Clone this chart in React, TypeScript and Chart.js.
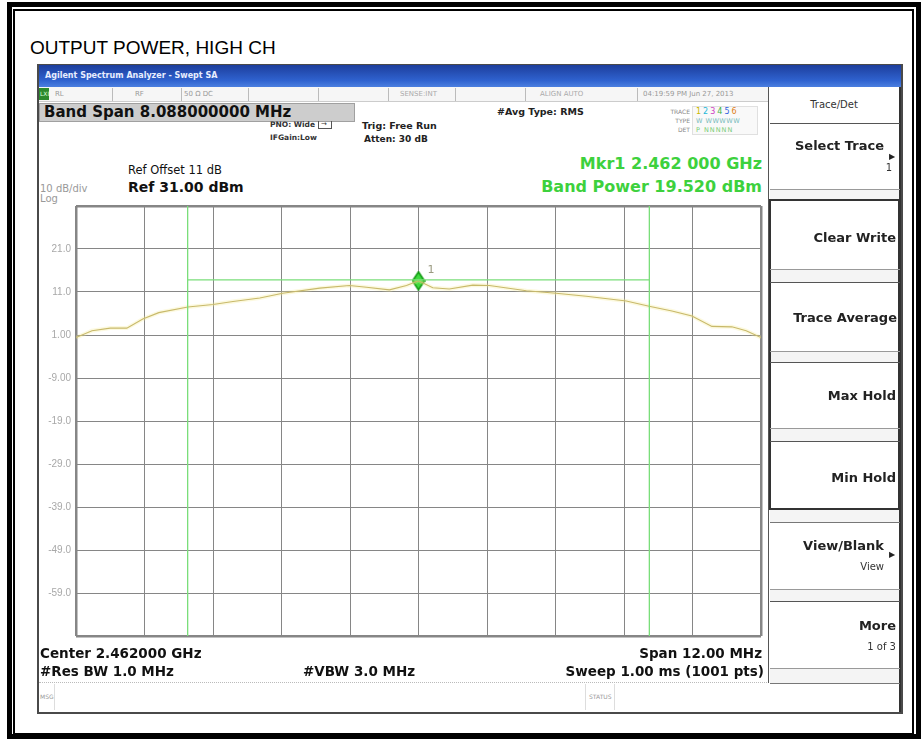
import React, { useEffect, useRef } from 'react';
import { Chart, registerables } from 'chart.js';

Chart.register(...registerables);

// ---- data (frequency as offset from centre, MHz; level in dBm) ----
const centerGHz = 2.462;
const traceOffsetMHz = [-6.0, -5.72, -5.4, -5.11, -4.83, -4.55, -4.04, -3.6, -3.25, -2.78, -2.38, -1.73, -1.21, -0.91, -0.51, -0.21, 0, 0.25, 0.54, 0.95, 1.24, 1.89, 2.41, 2.94, 3.64, 4.04, 4.44, 4.79, 5.14, 5.49, 5.74, 6.0];
const traceDbm = [0.4, 2.0, 2.6, 2.6, 4.7, 6.2, 7.5, 8.1, 8.8, 9.6, 10.7, 11.9, 12.5, 12.1, 11.5, 12.5, 13.6, 12.0, 11.7, 12.6, 12.5, 11.3, 10.7, 10.0, 8.9, 7.7, 6.6, 5.4, 3.0, 2.9, 2.0, 0.4];
const xGridMHz = [-6, -4.8, -3.6, -2.4, -1.2, 0, 1.2, 2.4, 3.6, 4.8, 6];
const yGridDbm = [-69, -59, -49, -39, -29, -19, -9, 1, 11, 21, 31];
const yTickLabels = ['', '-59.0', '-49.0', '-39.0', '-29.0', '-19.0', '-9.00', '1.00', '11.0', '21.0', ''];
const bandEdgesMHz = [-4.044, 4.044];
const bandLineDbm = 13.8;
const markerOffsetMHz = [0];
const markerDbm = [13.6];
const markerLabels = ['1'];

const refLevel = 31;
const bottomLevel = -69;

function makeDiamond(): HTMLCanvasElement {
  const c = document.createElement('canvas');
  c.width = 14;
  c.height = 20;
  const g = c.getContext('2d')!;
  g.beginPath();
  g.moveTo(7, 1);
  g.lineTo(13, 10);
  g.lineTo(7, 19);
  g.lineTo(1, 10);
  g.closePath();
  g.fillStyle = '#3fdc3f';
  g.fill();
  g.lineWidth = 1.6;
  g.strokeStyle = '#129a12';
  g.stroke();
  return c;
}

type TxtProps = {
  x: number; y: number; children: React.ReactNode; size?: number; bold?: boolean;
  color?: string; align?: 'left' | 'right' | 'center'; family?: string; ls?: number;
};
function Txt({ x, y, children, size = 12, bold = false, color = '#000', align = 'left', family = '"DejaVu Sans", sans-serif', ls = 0 }: TxtProps) {
  const tr = align === 'right' ? 'translate(-100%,-50%)' : align === 'center' ? 'translate(-50%,-50%)' : 'translateY(-50%)';
  return (
    <div style={{ position: 'absolute', left: x, top: y, transform: tr, fontSize: size, fontWeight: bold ? 700 : 400, color, fontFamily: family, lineHeight: 1, whiteSpace: 'nowrap', letterSpacing: ls }}>
      {children}
    </div>
  );
}

function Box({ l, t, w, h, style }: { l: number; t: number; w: number; h: number; style?: React.CSSProperties }) {
  return <div style={{ position: 'absolute', left: l, top: t, width: w, height: h, boxSizing: 'border-box', ...style }} />;
}

function SpectrumChart() {
  const ref = useRef<HTMLCanvasElement | null>(null);
  useEffect(() => {
    if (!ref.current) return;
    const trace = traceOffsetMHz.map((x, i) => ({ x, y: traceDbm[i] }));
    const edgeSets = bandEdgesMHz.map((x) => ({
      data: [{ x, y: refLevel }, { x, y: bottomLevel }],
      borderColor: '#7ade7a', borderWidth: 1.3, pointRadius: 0, showLine: true,
    }));
    const diamond = makeDiamond();
    const markerLabelPlugin = {
      id: 'markerLabel',
      afterDatasetsDraw(chart: any) {
        const idx = chart.data.datasets.findIndex((d: any) => d.label === 'marker');
        const meta = chart.getDatasetMeta(idx);
        const g = chart.ctx;
        g.save();
        g.font = '11px "DejaVu Sans"';
        g.fillStyle = '#9a9a80';
        g.textBaseline = 'middle';
        meta.data.forEach((p: any, i: number) => {
          g.fillText(markerLabels[i], p.x + 9, p.y - 11);
        });
        g.restore();
      },
    };
    const chart = new Chart(ref.current, {
      type: 'scatter',
      data: {
        datasets: [
          ...edgeSets,
          {
            data: [{ x: bandEdgesMHz[0], y: bandLineDbm }, { x: bandEdgesMHz[1], y: bandLineDbm }],
            borderColor: '#7ade7a', borderWidth: 1.3, pointRadius: 0, showLine: true,
          },
          { data: trace, borderColor: 'rgba(246,236,150,0.3)', borderWidth: 4, pointRadius: 0, showLine: true },
          { data: trace, borderColor: '#b5a458', borderWidth: 1.1, pointRadius: 0, showLine: true },
          {
            label: 'marker',
            data: markerOffsetMHz.map((x, i) => ({ x, y: markerDbm[i] })),
            pointStyle: diamond as any, pointRadius: 8, showLine: false,
          },
        ] as any,
      },
      options: {
        animation: false,
        responsive: false,
        devicePixelRatio: 1,
        layout: { padding: { left: 0, right: 8, top: 8, bottom: 6 } },
        plugins: { legend: { display: false }, tooltip: { enabled: false } },
        scales: {
          x: {
            type: 'linear', min: -6, max: 6,
            afterBuildTicks: (s: any) => { s.ticks = xGridMHz.map((v) => ({ value: v })); },
            afterFit: (s: any) => { s.height = 0; },
            ticks: { display: false },
            border: { display: false },
            grid: {
              color: '#868686', drawTicks: false,
              lineWidth: (c: any) => (c.tick && (c.tick.value === -6 || c.tick.value === 6) ? 2.5 : 1),
            },
          },
          y: {
            type: 'linear', min: bottomLevel, max: refLevel,
            afterBuildTicks: (s: any) => { s.ticks = yGridDbm.map((v) => ({ value: v })); },
            afterFit: (s: any) => { s.width = 44; },
            ticks: {
              padding: 5, color: '#a8a8a8', font: { family: 'Arial', size: 10 },
              callback: (v: any) => yTickLabels[yGridDbm.indexOf(Number(v))] ?? '',
            },
            border: { display: false },
            grid: {
              color: '#868686', drawTicks: false,
              lineWidth: (c: any) => (c.tick && (c.tick.value === refLevel || c.tick.value === bottomLevel) ? 2.5 : 1),
            },
          },
        },
      } as any,
      plugins: [markerLabelPlugin],
    });
    return () => chart.destroy();
  }, []);
  return <canvas ref={ref} width={738} height={452} style={{ position: 'absolute', left: 32, top: 195, width: 738, height: 452 }} />;
}

const traceColors = ['#c9b800', '#22b8d8', '#d040c0', '#40b040', '#3060e0', '#e08020'];

export default function App() {
  const softLine = (t: number, c = '#777', h = 1) => <Box l={770} t={t} w={130} h={h} style={{ background: c }} />;
  return (
    <div style={{ position: 'absolute', left: 0, top: 0, width: 923, height: 740, background: '#fff', overflow: 'hidden' }}>
      {/* outer double frame */}
      <Box l={7} t={2} w={914} h={737} style={{ border: '5px solid #000' }} />
      <Box l={13} t={9} w={901} h={726} style={{ border: '2px solid #000' }} />
      <Txt x={30} y={47} size={19} family="'Liberation Sans', Arial, sans-serif">OUTPUT POWER, HIGH CH</Txt>

      {/* screenshot frame */}
      <Box l={37} t={64} w={866} h={650} style={{ border: '2px solid #4a4a4a', background: '#fff' }} />
      <Box l={39} t={65} w={862} h={22} style={{ background: 'linear-gradient(#1d3e9c, #2f62cf 70%, #4b7fe0)' }} />
      <Txt x={45} y={76} size={8} bold color="#e8eeff">Agilent Spectrum Analyzer - Swept SA</Txt>

      {/* status row */}
      <Box l={39} t={87} w={729} h={15} style={{ background: '#f6f6f6', borderBottom: '1px solid #ccc' }} />
      <Box l={39} t={88} w={10} h={12} style={{ background: '#2d8a2d' }} />
      <Txt x={40} y={94} size={6} color="#dfd">LXI</Txt>
      <Txt x={55} y={94} size={7} color="#999">RL</Txt>
      <Txt x={135} y={94} size={7} color="#999">RF</Txt>
      <Txt x={184} y={94} size={7} color="#999">50 Ω   DC</Txt>
      <Txt x={400} y={94} size={7} color="#aaa">SENSE:INT</Txt>
      <Txt x={540} y={94} size={7} color="#aaa">ALIGN AUTO</Txt>
      <Txt x={643} y={94} size={7} color="#999">04:19:59 PM Jun 27, 2013</Txt>
      {[112, 181, 248, 318, 388, 455, 525, 637].map((x) => (
        <Box key={x} l={x} t={88} w={1} h={13} style={{ background: '#bbb' }} />
      ))}

      {/* band span box */}
      <Box l={39} t={103} w={316} h={19} style={{ background: '#cdcdcd', border: '1px solid #a0a0a0' }} />
      <Txt x={44} y={112} size={15} bold color="#111">Band Span 8.088000000 MHz</Txt>

      <Txt x={270} y={125} size={7.5} bold color="#333">PNO: Wide</Txt>
      <Box l={318} t={121} w={14} h={8} style={{ border: '1px solid #555', borderTop: 'none' }} />
      <Txt x={321} y={124} size={7} color="#333">→</Txt>
      <Txt x={270} y={138} size={7.5} bold color="#333">IFGain:Low</Txt>
      <Txt x={362} y={126} size={9.5} bold color="#222">Trig: Free Run</Txt>
      <Txt x={364} y={139} size={9} bold color="#222">Atten: 30 dB</Txt>
      <Txt x={497} y={112} size={9.5} bold color="#222">#Avg Type: RMS</Txt>

      {/* trace block */}
      <Txt x={690} y={112} size={6} color="#888" align="right">TRACE</Txt>
      <Txt x={690} y={121} size={6} color="#888" align="right">TYPE</Txt>
      <Txt x={690} y={130} size={6} color="#888" align="right">DET</Txt>
      <Box l={692} t={106} w={66} h={29} style={{ background: '#f9f9f9', border: '1px solid #e0e0e0' }} />
      <div style={{ position: 'absolute', left: 696, top: 108, fontSize: 8, fontFamily: 'DejaVu Sans', lineHeight: 1, whiteSpace: 'nowrap', letterSpacing: 2 }}>
        {traceColors.map((c, i) => <span key={i} style={{ color: c }}>{i + 1}</span>)}
      </div>
      <Txt x={696} y={121} size={6.5} color="#7bb" ls={0.5}>W WWWWW</Txt>
      <Txt x={696} y={130} size={6.5} color="#7c7" ls={1}>P NNNNN</Txt>

      {/* marker readout */}
      <Txt x={762} y={164} size={16} bold color="#3dd13d" align="right">Mkr1 2.462 000 GHz</Txt>
      <Txt x={762} y={187} size={16} bold color="#3dd13d" align="right">Band Power 19.520 dBm</Txt>

      <Txt x={128} y={171} size={11.5} color="#111">Ref Offset 11 dB</Txt>
      <Txt x={128} y={187} size={14} bold color="#111">Ref 31.00 dBm</Txt>
      <Txt x={40} y={189} size={10} color="#999">10 dB/div</Txt>
      <Txt x={40} y={199} size={10} color="#999">Log</Txt>

      <SpectrumChart />

      {/* bottom annotations */}
      <Txt x={40} y={654} size={13.5} bold color="#111">Center {centerGHz.toFixed(6)} GHz</Txt>
      <Txt x={40} y={672} size={13.5} bold color="#111">#Res BW 1.0 MHz</Txt>
      <Txt x={303} y={672} size={13.5} bold color="#111">#VBW 3.0 MHz</Txt>
      <Txt x={762} y={654} size={13.5} bold color="#111" align="right">Span 12.00 MHz</Txt>
      <Txt x={764} y={672} size={13.5} bold color="#111" align="right">Sweep  1.00 ms (1001 pts)</Txt>
      <Box l={39} t={682} w={862} h={1} style={{ borderTop: '1px dotted #bbb' }} />
      <Txt x={40} y={697} size={6} color="#999">MSG</Txt>
      <Box l={54} t={684} w={1} h={26} style={{ background: '#ddd' }} />
      <Box l={585} t={684} w={1} h={26} style={{ background: '#ddd' }} />
      <Txt x={589} y={697} size={6} color="#999">STATUS</Txt>
      <Box l={614} t={684} w={1} h={26} style={{ background: '#ddd' }} />

      {/* softkey panel */}
      <Box l={768} t={87} w={1} h={596} style={{ background: '#555' }} />
      <Box l={899} t={87} w={2} h={625} style={{ background: '#333' }} />
      <Txt x={834} y={105} size={10} color="#333" align="center">Trace/Det</Txt>
      {softLine(123, '#555')}
      <Txt x={884} y={145} size={13} bold color="#222" align="right">Select Trace</Txt>
      <Txt x={892} y={168} size={10} color="#333" align="right">1</Txt>
      <Txt x={889} y={157} size={8} color="#222">▶</Txt>
      {softLine(189, '#999')}
      <Box l={770} t={190} w={129} h={9} style={{ background: '#f4f4f4' }} />
      <Box l={769} t={199} w={131} h={311} style={{ border: '2px solid #333' }} />
      <Txt x={896} y={237} size={13} bold color="#222" align="right">Clear Write</Txt>
      {softLine(269, '#999')}
      <Box l={771} t={270} w={127} h={12} style={{ background: '#f4f4f4' }} />
      {softLine(282, '#555')}
      <Txt x={897} y={317} size={13} bold color="#222" align="right">Trace Average</Txt>
      {softLine(351, '#999')}
      <Box l={771} t={352} w={127} h={10} style={{ background: '#f4f4f4' }} />
      {softLine(362, '#555')}
      <Txt x={896} y={395} size={13} bold color="#222" align="right">Max Hold</Txt>
      {softLine(428, '#999')}
      <Box l={771} t={429} w={127} h={12} style={{ background: '#f4f4f4' }} />
      {softLine(441, '#555')}
      <Txt x={896} y={477} size={13} bold color="#222" align="right">Min Hold</Txt>
      <Box l={770} t={510} w={129} h={12} style={{ background: '#f4f4f4' }} />
      {softLine(522, '#777')}
      <Txt x={884} y={545} size={13} bold color="#222" align="right">View/Blank</Txt>
      <Txt x={889} y={555} size={8} color="#222">▶</Txt>
      <Txt x={884} y={567} size={10} color="#333" align="right">View</Txt>
      {softLine(589, '#999')}
      <Box l={770} t={590} w={129} h={11} style={{ background: '#f4f4f4' }} />
      {softLine(601, '#555')}
      <Txt x={896} y={625} size={13} bold color="#222" align="right">More</Txt>
      <Txt x={896} y={647} size={10} color="#333" align="right">1 of 3</Txt>
      {softLine(668, '#999')}
      <Box l={770} t={669} w={129} h={14} style={{ background: '#f4f4f4' }} />
      {softLine(683, '#777')}
    </div>
  );
}
